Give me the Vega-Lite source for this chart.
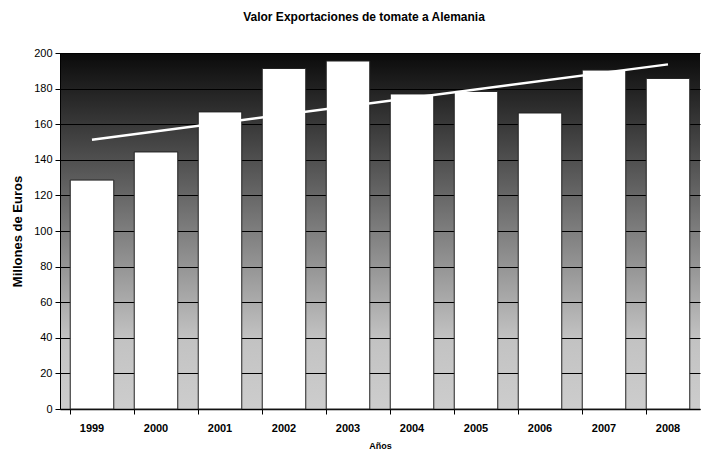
{
  "$schema": "https://vega.github.io/schema/vega-lite/v6.json",
  "width": 640,
  "height": 356,
  "autosize": {"type": "none"},
  "padding": {"left": 60, "top": 53, "right": 1, "bottom": 43},
  "background": "white",
  "title": {
    "text": "Valor Exportaciones de tomate a Alemania",
    "font": "Liberation Sans",
    "fontSize": 12,
    "fontWeight": "bold",
    "color": "black",
    "anchor": "middle",
    "dx": -16,
    "offset": 23
  },
  "config": {
    "view": {
      "stroke": null,
      "fill": {
        "gradient": "linear",
        "x1": 0, "y1": 0, "x2": 0, "y2": 1,
        "stops": [
          {"offset": 0, "color": "#0a0a0a"},
          {"offset": 0.5, "color": "#7e7e7e"},
          {"offset": 0.8, "color": "#c2c2c2"},
          {"offset": 1, "color": "#cdcdcd"}
        ]
      }
    },
    "axis": {
      "labelFont": "Liberation Sans",
      "titleFont": "Liberation Sans",
      "labelColor": "black",
      "titleColor": "black",
      "domainColor": "black",
      "tickColor": "black",
      "labelOverlap": false
    }
  },
  "data": {
    "values": [
      {"Año": 1999, "Valor": 128.6},
      {"Año": 2000, "Valor": 144.4},
      {"Año": 2001, "Valor": 166.9},
      {"Año": 2002, "Valor": 191.3},
      {"Año": 2003, "Valor": 195.5},
      {"Año": 2004, "Valor": 177.0},
      {"Año": 2005, "Valor": 178.4},
      {"Año": 2006, "Valor": 166.3},
      {"Año": 2007, "Valor": 190.4},
      {"Año": 2008, "Valor": 185.7}
    ]
  },
  "encoding": {
    "x": {
      "field": "Año",
      "type": "ordinal",
      "scale": {"paddingInner": 0.32, "paddingOuter": 0.16},
      "axis": {
        "title": "Años",
        "titleFontSize": 9,
        "titleFontWeight": "bold",
        "titlePadding": 8,
        "labelFontSize": 11,
        "labelFontWeight": "bold",
        "labelAngle": 0,
        "labelPadding": 8,
        "bandPosition": 0,
        "tickSize": 5,
        "domainWidth": 1.5,
        "ticks": true,
        "grid": false
      }
    },
    "y": {
      "field": "Valor",
      "type": "quantitative",
      "scale": {"domain": [0, 200], "nice": false},
      "axis": {
        "title": "Millones de Euros",
        "titleFontSize": 13,
        "titleFontWeight": "bold",
        "titlePadding": 9,
        "labelFontSize": 11,
        "labelPadding": 3,
        "values": [0, 20, 40, 60, 80, 100, 120, 140, 160, 180, 200],
        "tickSize": 5,
        "grid": true,
        "gridColor": "black",
        "gridOpacity": 1,
        "gridWidth": 1
      }
    }
  },
  "layer": [
    {
      "mark": {"type": "bar", "fill": "white", "stroke": "#222222", "strokeWidth": 1}
    },
    {
      "transform": [
        {"regression": "Valor", "on": "Año", "method": "linear"}
      ],
      "mark": {"type": "line", "color": "white", "strokeWidth": 2.5}
    }
  ]
}
